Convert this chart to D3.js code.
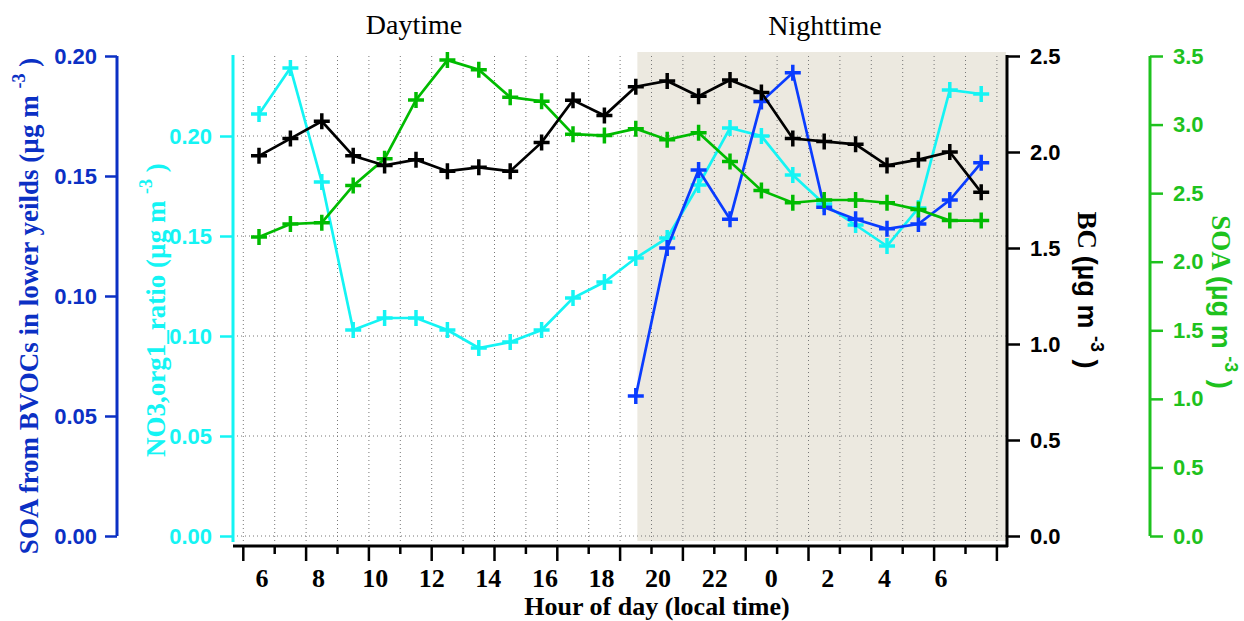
<!DOCTYPE html>
<html lang="en">
<head>
<meta charset="UTF-8">
<title>Diurnal profiles</title>
<script src="https://cdn.jsdelivr.net/npm/d3@7"></script>
<style>
  body { margin: 0; background: #fff; }
  svg text { font-family: "Liberation Sans", Arial, sans-serif; }
</style>
</head>
<body>
<script>
// hour of day for each point (06:00 -> 05:00 next day)
var hours = [6, 7, 8, 9, 10, 11, 12, 13, 14, 15, 16, 17, 18, 19, 20, 21, 22, 23, 0, 1, 2, 3, 4, 5];
// x tick labels (printed along the bottom)
var hourLabels = ["6", "8", "10", "12", "14", "16", "18", "20", "22", "0", "2", "4", "6"];

// series
var bcValues = [1.98, 2.07, 2.16, 1.98, 1.93, 1.96, 1.90, 1.92, 1.90, 2.05, 2.27, 2.19,
                2.34, 2.37, 2.29, 2.375, 2.31, 2.07, 2.055, 2.04, 1.93, 1.96, 2.00, 1.79];
var soaValues = [2.18, 2.275, 2.285, 2.555, 2.75, 3.18, 3.47, 3.40, 3.20, 3.17, 2.93, 2.92,
                 2.97, 2.89, 2.94, 2.73, 2.52, 2.43, 2.45, 2.45, 2.43, 2.38, 2.30, 2.30];
var no3Values = [0.211, 0.234, 0.177, 0.103, 0.109, 0.109, 0.103, 0.094, 0.097, 0.103, 0.119, 0.127,
                 0.139, 0.149, 0.1755, 0.204, 0.200, 0.1805, 0.166, 0.1555, 0.145, 0.164, 0.223, 0.221];
var bvocValues = [null, null, null, null, null, null, null, null, null, null, null, null,
                  0.0583, 0.120, 0.1525, 0.132, 0.181, 0.193, 0.137, 0.132, 0.128, 0.130, 0.140, 0.1555];

// axis ticks
var bvocTicks = [0, 0.05, 0.10, 0.15, 0.20];
var no3Ticks = [0, 0.05, 0.10, 0.15, 0.20];
var bcTicks = [0, 0.5, 1.0, 1.5, 2.0, 2.5];
var soaTicks = [0, 0.5, 1.0, 1.5, 2.0, 2.5, 3.0, 3.5];

var W = 1244, H = 621;
var plotTop = 56, plotBottom = 536;
var plotLeft = 233, plotRight = 1007;
var nightStart = 12.05;

var SERIF = '"Liberation Serif", "Times New Roman", serif';
var SANS = '"Liberation Sans", Arial, sans-serif';

var blueAxis = "#0b30c4", blueLine = "#0a3cff";
var cyan = "#14f4f4";
var green = "#1ec21e", greenLine = "#00bb00";

var svg = d3.select("body").append("svg")
    .attr("width", W)
    .attr("height", H);

var x = d3.scaleLinear().domain([0, hours.length - 1]).range([259, 981.2]);
var xLab = d3.scalePoint().domain(d3.range(hourLabels.length)).range([262, 941]);

var yBvoc = d3.scaleLinear().domain([0, 0.2]).range([plotBottom, plotTop]);
var yNo3 = d3.scaleLinear().domain([0, 0.24]).range([plotBottom, plotTop]);
var yBc = d3.scaleLinear().domain([0, 2.5]).range([plotBottom, plotTop]);
var ySoa = d3.scaleLinear().domain([0, 3.5]).range([plotBottom, plotTop]);

var tickPos = d3.range(hours.length + 1).map(function (k) { return k - 0.5; });

// night shading
svg.append("rect")
    .attr("x", x(nightStart))
    .attr("y", 52)
    .attr("width", plotRight - 1 - x(nightStart))
    .attr("height", 541 - 52)
    .attr("fill", "#ece9e0");

// grid
var grid = svg.append("g")
    .attr("stroke", "#777")
    .attr("stroke-width", 1)
    .attr("stroke-dasharray", "1,3");
grid.selectAll("line.v")
    .data(tickPos)
    .enter().append("line")
    .attr("class", "v")
    .attr("x1", function (d) { return x(d); })
    .attr("x2", function (d) { return x(d); })
    .attr("y1", plotTop)
    .attr("y2", 541);
grid.selectAll("line.h")
    .data(no3Ticks)
    .enter().append("line")
    .attr("class", "h")
    .attr("x1", plotLeft)
    .attr("x2", plotRight)
    .attr("y1", function (d) { return yNo3(d); })
    .attr("y2", function (d) { return yNo3(d); });

// x axis
var xAxis = svg.append("g").attr("transform", "translate(0,546)");
xAxis.append("line")
    .attr("x1", plotLeft).attr("x2", plotRight + 1)
    .attr("stroke", "#000").attr("stroke-width", 3);
xAxis.selectAll("line.tk")
    .data(tickPos)
    .enter().append("line")
    .attr("class", "tk")
    .attr("x1", function (d) { return x(d); })
    .attr("x2", function (d) { return x(d); })
    .attr("y1", 0)
    .attr("y2", function (d, i) { return i % 2 === 0 ? 15 : 8; })
    .attr("stroke", "#000").attr("stroke-width", 2.5);
xAxis.selectAll("text")
    .data(hourLabels)
    .enter().append("text")
    .attr("x", function (d, i) { return xLab(i); })
    .attr("y", 41)
    .attr("text-anchor", "middle")
    .style("font-family", SERIF)
    .style("font-weight", "bold")
    .style("font-size", "26px")
    .text(function (d) { return d; });
svg.append("text")
    .attr("x", 657)
    .attr("y", 615)
    .attr("text-anchor", "middle")
    .style("font-family", SERIF)
    .style("font-weight", "bold")
    .style("font-size", "26px")
    .text("Hour of day (local time)");

// y axes
function styleAxis(g, color) {
    g.select(".domain").remove();
    g.selectAll(".tick line").attr("stroke", color).attr("stroke-width", 2.5);
    g.selectAll(".tick text")
        .attr("fill", color)
        .style("font-family", SANS)
        .style("font-weight", "bold")
        .style("font-size", "22px");
}

var gBvoc = svg.append("g").attr("transform", "translate(117,0)")
    .call(d3.axisLeft(yBvoc).tickValues(bvocTicks).tickFormat(d3.format(".2f")).tickSize(12).tickPadding(8));
styleAxis(gBvoc, blueAxis);
gBvoc.append("line").attr("y1", plotTop).attr("y2", plotBottom).attr("stroke", blueAxis).attr("stroke-width", 3);

var gNo3 = svg.append("g").attr("transform", "translate(" + plotLeft + ",0)")
    .call(d3.axisLeft(yNo3).tickValues(no3Ticks).tickFormat(d3.format(".2f")).tickSize(13).tickPadding(8));
styleAxis(gNo3, cyan);
gNo3.append("line").attr("y1", 55).attr("y2", 542).attr("stroke", cyan).attr("stroke-width", 3);

var gBc = svg.append("g").attr("transform", "translate(" + plotRight + ",0)")
    .call(d3.axisRight(yBc).tickValues(bcTicks).tickFormat(d3.format(".1f")).tickSize(13).tickPadding(10));
styleAxis(gBc, "#000");
gBc.append("line").attr("y1", 55).attr("y2", 547).attr("stroke", "#000").attr("stroke-width", 3);

var gSoa = svg.append("g").attr("transform", "translate(1150,0)")
    .call(d3.axisRight(ySoa).tickValues(soaTicks).tickFormat(d3.format(".1f")).tickSize(13).tickPadding(10));
styleAxis(gSoa, green);
gSoa.append("line").attr("y1", plotTop).attr("y2", plotBottom).attr("stroke", green).attr("stroke-width", 3);

// axis titles with a superscript -3
function unitTitle(cx, cy, angle, color, name, unitFont) {
    var t = svg.append("text")
        .attr("transform", "translate(" + cx + "," + cy + ") rotate(" + angle + ")")
        .attr("text-anchor", "middle")
        .attr("fill", color)
        .style("font-family", SERIF)
        .style("font-weight", "bold")
        .style("font-size", "27px");
    t.append("tspan").text(name);
    t.append("tspan").style("font-family", unitFont).text("(\u00b5g m ");
    t.append("tspan").attr("dy", -13).style("font-size", "18px").style("font-family", unitFont).text("-3");
    t.append("tspan").attr("dy", 13).style("font-family", unitFont).text(" )");
}
unitTitle(38, 306, -90, blueAxis, "SOA from BVOCs in lower yeilds  ", SERIF);
unitTitle(165, 310, -90, cyan, "NO3,org1_ratio ", SERIF);
unitTitle(1078, 290, 90, "#000", "BC ", SANS);
unitTitle(1212, 302, 90, green, "SOA ", SANS);

// top labels
svg.append("text").attr("x", 414).attr("y", 34).attr("text-anchor", "middle")
    .style("font-family", SERIF).style("font-size", "28px").text("Daytime");
svg.append("text").attr("x", 825).attr("y", 35).attr("text-anchor", "middle")
    .style("font-family", SERIF).style("font-size", "28px").text("Nighttime");

// series
function drawSeries(values, yScale, color) {
    var pts = values.map(function (v, i) { return [i, v]; })
        .filter(function (d) { return d[1] !== null; });
    var line = d3.line()
        .x(function (d) { return x(d[0]); })
        .y(function (d) { return yScale(d[1]); });
    svg.append("path")
        .attr("d", line(pts))
        .attr("fill", "none")
        .attr("stroke", color)
        .attr("stroke-width", 2.7);
    var a = 8;
    svg.append("g").selectAll("path")
        .data(pts)
        .enter().append("path")
        .attr("d", function (d) {
            var px = x(d[0]), py = yScale(d[1]);
            return "M" + (px - a) + "," + py + "H" + (px + a) + "M" + px + "," + (py - a) + "V" + (py + a);
        })
        .attr("stroke", color)
        .attr("stroke-width", 3.5);
}
drawSeries(no3Values, yNo3, cyan);
drawSeries(bvocValues, yBvoc, blueLine);
drawSeries(soaValues, ySoa, greenLine);
drawSeries(bcValues, yBc, "#000");
</script>
</body>
</html>
